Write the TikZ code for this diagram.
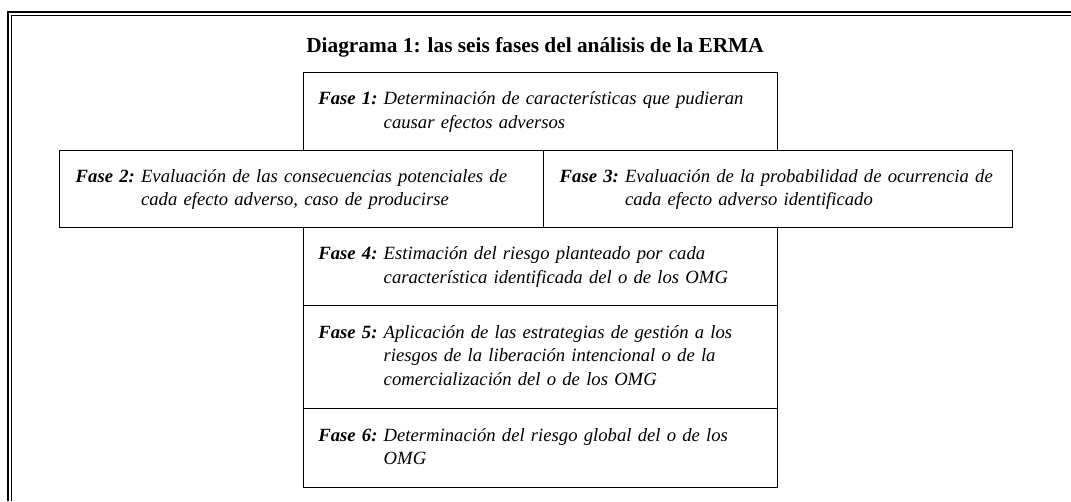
\documentclass[tikz,border=0pt]{standalone}
\usepackage{fontspec}
\setmainfont{Liberation Serif}
% etiqueta en negrita y lineas siguientes alineadas tras ella
\newcommand{\fase}[2]{\begin{tabular}{@{}l@{\ }l@{}}\textbf{Fase #1:}&#2\end{tabular}}
\tikzset{
  fasebox/.style={draw, line width=1.1pt, anchor=north west, inner xsep=11pt, inner ysep=0pt,
    align=left, font=\itshape\fontsize{14}{17.5}\selectfont},
}
\begin{document}
\begin{tikzpicture}[x=0.75pt,y=-0.75pt]
            \useasboundingbox (0,0) rectangle (1071,501);

            % marco doble
            \draw[line width=1.6pt] (8,501) |- (1071,12);
            \draw[line width=1.1pt] (11.5,501) |- (1071,15.5);

            % titulo
            \node[font=\bfseries\fontsize{16}{19}\selectfont] (titulo) at (535,47) {Diagrama 1: las seis fases del análisis de la ERMA};

            % las seis fases
            \node[fasebox, text width=333.5pt, minimum height=58.5pt] (f1) at (303,72)
                {\fase{1}{Determinación de características que pudieran\\ & causar efectos adversos}};
            \node[fasebox, inner xsep=12pt, text width=339pt, minimum height=57.75pt] (f2) at (59,150)
                {\fase{2}{Evaluación de las consecuencias potenciales de\\ & cada efecto adverso, caso de producirse}};
            \node[fasebox, inner xsep=12pt, text width=327.75pt, minimum height=57.75pt] (f3) at (543,150)
                {\fase{3}{Evaluación de la probabilidad de ocurrencia de\\ & cada efecto adverso identificado}};
            \node[fasebox, text width=333.5pt, minimum height=58.5pt] (f4) at (303,227)
                {\fase{4}{Estimación del riesgo planteado por cada\\ & característica identificada del o de los OMG}};
            \node[fasebox, text width=333.5pt, minimum height=77.25pt] (f5) at (303,305)
                {\fase{5}{Aplicación de las estrategias de gestión a los\\ & riesgos de la liberación intencional o de la\\ & comercialización del o de los OMG}};
            \node[fasebox, text width=333.5pt, minimum height=59.25pt] (f6) at (303,408)
                {\fase{6}{Determinación del riesgo global del o de los\\ & OMG}};
\end{tikzpicture}
\end{document}
